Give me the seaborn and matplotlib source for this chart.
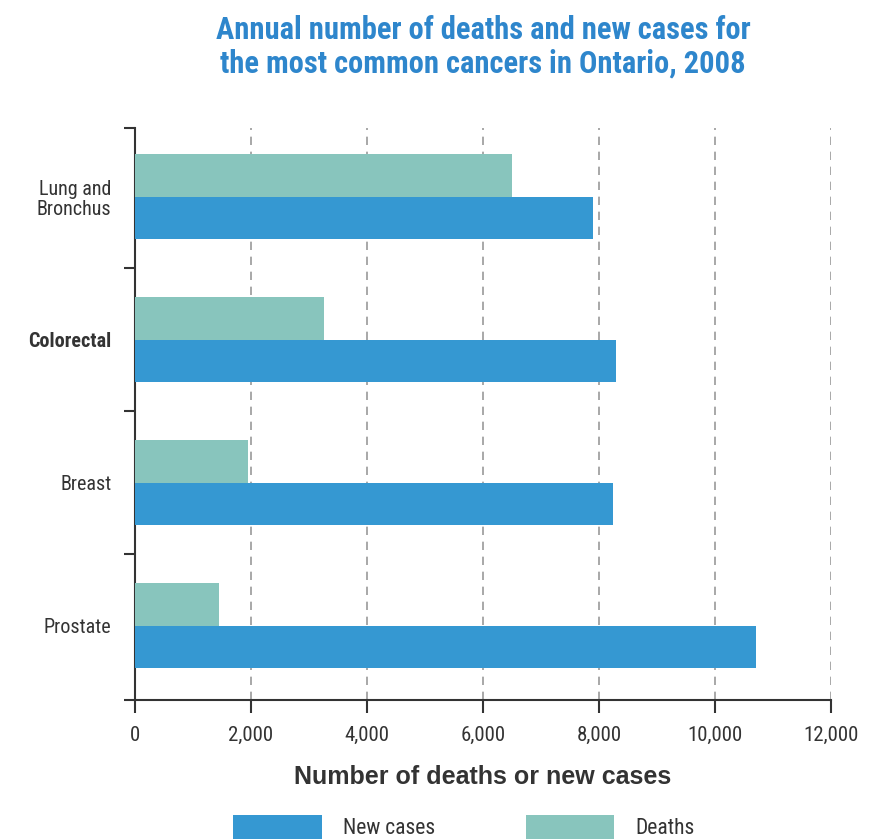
import matplotlib
matplotlib.use("Agg")
import matplotlib.pyplot as plt
from matplotlib import font_manager
from matplotlib.patches import Patch
import seaborn as sns
import pandas as pd

categories = ["Lung and\nBronchus", "Colorectal", "Breast", "Prostate"]
new_cases = [7900, 8300, 8250, 10700]
deaths = [6500, 3250, 1950, 1450]
x_ticks = [0, 2000, 4000, 6000, 8000, 10000, 12000]
x_tick_labels = ["0", "2,000", "4,000", "6,000", "8,000", "10,000", "12,000"]
series = ["Deaths", "New cases"]

C_NEW = "#3598d2"
C_DEATH = "#88c5bd"
TXT = "#333333"
BLUE_T = "#2e86cc"

sns.set_theme(style="white")
avail = {f.name for f in font_manager.fontManager.ttflist}
fam = "DejaVu Sans"
for cand in ["Roboto Condensed", "Liberation Sans Narrow", "DejaVu Sans Condensed", "Liberation Sans"]:
    if cand in avail:
        fam = cand
        break
wide = "Liberation Sans" if "Liberation Sans" in avail else "DejaVu Sans"
plt.rcParams["font.family"] = [fam, "DejaVu Sans"]

df = pd.DataFrame({
    "cat": categories * 2,
    "val": deaths + new_cases,
    "type": ["Deaths"] * len(categories) + ["New cases"] * len(categories),
})

fig = plt.figure(figsize=(8.76, 8.39), dpi=100)
ax = fig.add_axes([135 / 876, 1 - 700 / 839, (831 - 135) / 876, (700 - 128) / 839])

sns.barplot(data=df, x="val", y="cat", hue="type", hue_order=series,
            order=categories, palette={"Deaths": C_DEATH, "New cases": C_NEW},
            orient="h", width=0.59, gap=0, ax=ax, legend=False, saturation=1,
            edgecolor="none", linewidth=0, zorder=3)

ax.set_xlim(0, 12000)
ax.set_ylim(3.52, -0.48)
ax.set_xticks(x_ticks)
ax.set_xticklabels(x_tick_labels, fontsize=15, color=TXT)
ax.set_yticks(range(len(categories)))
ax.set_yticklabels(categories, fontsize=14.5, color=TXT, linespacing=1.1)
ax.get_yticklabels()[1].set_fontweight("bold")
ax.set_yticks([-0.48, 0.5, 1.5, 2.5, 3.52], minor=True)
ax.tick_params(axis="y", which="major", left=True, length=0, pad=17)
ax.tick_params(axis="y", which="minor", left=True, length=8, width=1.5, color="#333333", direction="out")
ax.tick_params(axis="x", which="major", bottom=True, length=9, width=1.5, color="#333333", direction="out", pad=10)

for s in ["top", "right"]:
    ax.spines[s].set_visible(False)
for s in ["left", "bottom"]:
    ax.spines[s].set_color("#333333")
    ax.spines[s].set_linewidth(1.5)

ax.xaxis.grid(True, linestyle=(0, (5, 4)), color="#9a9a9a", linewidth=1.2, zorder=0)
ax.yaxis.grid(False)
ax.set_axisbelow(True)

ax.set_ylabel("")
ax.set_xlabel("Number of deaths or new cases", fontsize=18, fontweight="bold",
              color=TXT, labelpad=14, family=[wide, "DejaVu Sans"])

fig.text(483 / 876, 1 - 47 / 839,
         "Annual number of deaths and new cases for\nthe most common cancers in Ontario, 2008",
         ha="center", va="center", fontsize=22, fontweight="bold", color=BLUE_T,
         linespacing=1.15)

handles = [Patch(facecolor=C_NEW, edgecolor="none"), Patch(facecolor=C_DEATH, edgecolor="none")]
fig.legend(handles, ["New cases", "Deaths"], loc="center", ncol=2,
           bbox_to_anchor=(464 / 876, 0.014), frameon=False, fontsize=15.5,
           handlelength=4.1, handleheight=1.4, handletextpad=1.0, columnspacing=4.2,
           labelcolor=TXT)

fig.savefig("out.png", dpi=100)
